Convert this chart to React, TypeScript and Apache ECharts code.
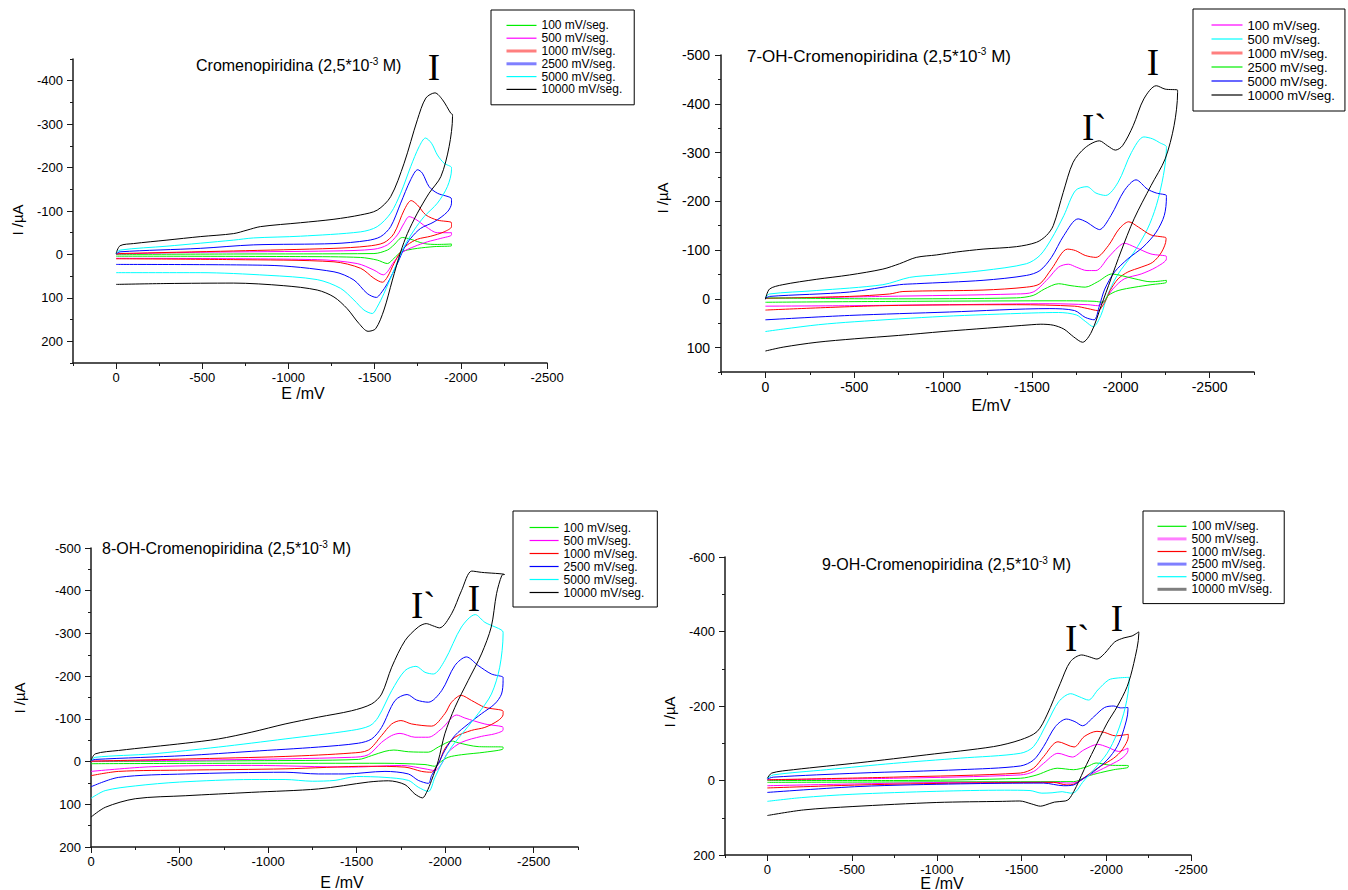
import React, { useEffect, useRef } from 'react';
import * as echarts from 'echarts';

type Pt = [number, number];

const RATES = ['100 mV/seg.', '500 mV/seg.', '1000 mV/seg.', '2500 mV/seg.', '5000 mV/seg.', '10000 mV/seg.'];

// ---------- Panel 1: Cromenopiridina ----------
const p1_100: Pt[] = [[0,0],[-682,-1],[-1496,-2],[-1574,-10],[-1612,-22],[-1661,-39],[-1709,-35],[-1787,-25],[-1864,-23],[-1946,-24],
  [-1946,-20],[-1845,-18],[-1748,-14],[-1690,-10],[-1651,-5],[-1612,9],[-1574,21],[-1515,13],[-1419,7],[-1070,5],[0,4]];
const p1_500: Pt[] = [[0,-1],[-488,-5],[-1264,-8],[-1496,-12],[-1574,-22],[-1632,-45],[-1671,-72],[-1700,-87],[-1738,-81],[-1797,-64],[-1864,-50],[-1946,-50],
  [-1946,-45],[-1884,-37],[-1806,-29],[-1729,-18],[-1661,-5],[-1612,17],[-1574,40],[-1550,47],[-1496,36],[-1399,21],[-1167,12],[0,9]];
const p1_1000: Pt[] = [[0,-1],[-23,-2],[-682,-8],[-1264,-14],[-1457,-19],[-1554,-27],[-1612,-48],[-1671,-102],[-1712,-124],[-1748,-114],[-1797,-91],[-1864,-79],[-1946,-73],
  [-1946,-64],[-1903,-52],[-1826,-42],[-1748,-35],[-1690,-22],[-1651,-6],[-1612,21],[-1574,52],[-1545,64],[-1496,55],[-1419,32],[-1264,17],[-682,12],[0,10]];
const p1_2500: Pt[] = [[0,-1],[-23,-6],[-488,-14],[-798,-22],[-1264,-25],[-1457,-32],[-1535,-41],[-1593,-64],[-1651,-118],[-1709,-172],[-1750,-195],[-1777,-187],[-1816,-156],[-1864,-141],[-1946,-128],
  [-1946,-118],[-1922,-98],[-1845,-75],[-1767,-60],[-1709,-37],[-1671,-14],[-1632,21],[-1574,67],[-1535,90],[-1510,99],[-1457,90],[-1380,59],[-1264,40],[-876,25],[0,23]];
const p1_5000: Pt[] = [[0,-2],[-23,-10],[-295,-19],[-682,-33],[-798,-38],[-1070,-42],[-1419,-52],[-1515,-64],[-1593,-95],[-1651,-141],[-1709,-202],[-1758,-248],[-1795,-268],[-1830,-256],[-1864,-229],[-1903,-210],[-1946,-200],
  [-1946,-195],[-1922,-156],[-1864,-118],[-1787,-87],[-1729,-56],[-1671,-18],[-1612,36],[-1554,90],[-1515,121],[-1486,136],[-1438,128],[-1380,105],[-1302,78],[-1167,58],[-876,48],[-488,42],[0,42]];
const p1_10000: Pt[] = [[0,-2],[-23,-20],[-101,-25],[-295,-33],[-488,-41],[-682,-48],[-760,-56],[-837,-64],[-1070,-73],[-1264,-81],[-1419,-91],[-1515,-102],[-1593,-133],[-1671,-210],[-1748,-310],[-1797,-360],[-1850,-372],[-1894,-356],[-1942,-325],[-1952,-322],
  [-1952,-318],[-1932,-248],[-1884,-179],[-1816,-141],[-1748,-95],[-1690,-48],[-1651,-6],[-1603,59],[-1554,128],[-1506,171],[-1462,177],[-1409,159],[-1341,125],[-1264,98],[-1167,82],[-973,72],[-682,66],[-295,67],[0,69]];

// ---------- Panel 2: 7-OH-Cromenopiridina ----------
const p2_100: Pt[] = [[0,-1],[-661,-5],[-1413,-10],[-1507,-14],[-1590,-41],[-1650,-65],[-1705,-71],[-1750,-65],[-1810,-58],[-1860,-58],[-1930,-85],[-1985,-106],[-2020,-114],[-2080,-106],[-2170,-92],[-2257,-87],
  [-2257,-82],[-2200,-65],[-2115,-51],[-2020,-41],[-1955,-20],[-1910,3],[-1870,14],[-1815,12],[-1601,10],[-1037,12],[-474,14],[0,15]];
const p2_500: Pt[] = [[0,-3],[-23,-10],[-286,-17],[-661,-29],[-812,-44],[-962,-49],[-1225,-58],[-1469,-72],[-1545,-89],[-1610,-123],[-1680,-171],[-1745,-222],[-1810,-230],[-1860,-217],[-1915,-212],[-1985,-239],[-2060,-300],[-2130,-332],[-2180,-328],[-2220,-320],[-2257,-312],
  [-2257,-308],[-2240,-253],[-2200,-191],[-2150,-143],[-2075,-96],[-1980,-48],[-1925,-7],[-1888,34],[-1845,57],[-1800,46],[-1750,33],[-1650,28],[-1500,29],[-1000,36],[-500,47],[-300,53],[-100,62],[0,67]];
const p2_1000: Pt[] = [[0,-1],[-474,-5],[-699,-10],[-774,-15],[-1225,-18],[-1469,-24],[-1545,-31],[-1610,-61],[-1700,-102],[-1745,-99],[-1800,-89],[-1860,-85],[-1930,-109],[-1990,-143],[-2045,-158],[-2100,-147],[-2170,-131],[-2255,-125],
  [-2255,-122],[-2230,-96],[-2180,-75],[-2115,-65],[-2040,-55],[-1985,-41],[-1940,-17],[-1910,7],[-1870,24],[-1815,20],[-1740,15],[-1413,12],[-661,14],[0,23]];
const p2_2500: Pt[] = [[0,-2],[-661,0],[-1413,-2],[-1507,-7],[-1570,-20],[-1650,-31],[-1720,-27],[-1800,-24],[-1870,-35],[-1950,-51],[-2000,-48],[-2080,-41],[-2170,-35],[-2257,-38],
  [-2257,-34],[-2170,-29],[-2080,-24],[-1985,-17],[-1930,-7],[-1900,7],[-1850,5],[-1695,4],[-849,5],[0,7]];
const p2_5000: Pt[] = [[0,-1],[-23,-5],[-474,-14],[-755,-29],[-849,-31],[-1225,-38],[-1469,-48],[-1545,-58],[-1610,-85],[-1680,-130],[-1760,-164],[-1810,-157],[-1850,-147],[-1880,-142],[-1945,-171],[-2020,-222],[-2086,-244],[-2150,-225],[-2200,-217],[-2257,-212],
  [-2257,-208],[-2245,-171],[-2200,-137],[-2125,-106],[-2040,-82],[-1965,-55],[-1910,-20],[-1880,14],[-1850,43],[-1800,38],[-1740,24],[-1601,20],[-1037,27],[-474,34],[0,43]];
const p2_10000: Pt[] = [[0,1],[-23,-20],[-98,-29],[-286,-40],[-474,-49],[-661,-61],[-755,-72],[-849,-85],[-962,-90],[-1075,-96],[-1225,-102],[-1413,-107],[-1526,-116],[-1582,-130],[-1620,-150],[-1676,-218],[-1732,-280],[-1800,-310],[-1880,-324],[-1925,-314],[-1970,-305],[-2010,-314],[-2070,-355],[-2130,-410],[-2200,-437],[-2250,-430],[-2320,-428],
  [-2320,-423],[-2300,-355],[-2250,-287],[-2170,-232],[-2075,-164],[-2000,-96],[-1945,-41],[-1890,14],[-1835,68],[-1785,89],[-1735,78],[-1680,62],[-1620,54],[-1550,52],[-1500,53],[-1250,60],[-1000,67],[-750,75],[-500,82],[-290,89],[-100,99],[0,107]];

// ---------- Panel 3: 8-OH-Cromenopiridina ----------
const p3_100: Pt[] = [[0,0],[-908,-2],[-1510,-5],[-1585,-14],[-1660,-24],[-1710,-27],[-1792,-23],[-1905,-22],[-1961,-34],[-2040,-48],[-2073,-44],[-2186,-35],[-2327,-34],
  [-2327,-30],[-2224,-22],[-2092,-16],[-2017,-10],[-1970,2],[-1942,11],[-1886,7],[-1660,4],[-908,4],[0,5]];
const p3_500: Pt[] = [[0,-1],[-720,-4],[-1472,-10],[-1566,-16],[-1641,-45],[-1698,-61],[-1745,-66],[-1829,-57],[-1905,-57],[-1980,-77],[-2065,-109],[-2111,-102],[-2224,-88],[-2327,-80],
  [-2327,-74],[-2280,-65],[-2205,-59],[-2092,-45],[-2017,-22],[-1980,5],[-1942,21],[-1886,17],[-1754,9],[-1472,13],[-908,9],[-344,12],[0,23]];
const p3_1000: Pt[] = [[0,-1],[-532,-6],[-1096,-12],[-1472,-20],[-1566,-27],[-1641,-61],[-1698,-88],[-1750,-96],[-1811,-88],[-1923,-83],[-1998,-112],[-2036,-139],[-2090,-155],[-2149,-143],[-2224,-127],[-2327,-118],
  [-2327,-110],[-2299,-96],[-2224,-80],[-2149,-73],[-2055,-57],[-1998,-30],[-1970,-2],[-1942,17],[-1923,25],[-1867,23],[-1773,13],[-1566,11],[-1096,17],[-532,20],[-156,23],[0,33]];
const p3_2500: Pt[] = [[0,-2],[-24,-5],[-532,-14],[-908,-24],[-1284,-34],[-1510,-43],[-1585,-53],[-1641,-80],[-1717,-143],[-1785,-157],[-1839,-144],[-1905,-139],[-1980,-166],[-2055,-225],[-2120,-245],[-2186,-225],[-2261,-205],[-2327,-197],
  [-2327,-190],[-2318,-158],[-2280,-135],[-2205,-112],[-2130,-88],[-2055,-61],[-1998,-26],[-1961,5],[-1923,33],[-1905,51],[-1848,44],[-1792,29],[-1660,23],[-1434,29],[-1284,29],[-1096,25],[-532,29],[-156,37],[0,59]];
const p3_5000: Pt[] = [[0,-2],[-24,-10],[-344,-18],[-720,-34],[-1096,-53],[-1472,-73],[-1575,-84],[-1622,-104],[-1698,-166],[-1773,-213],[-1835,-223],[-1886,-209],[-1933,-205],[-1998,-237],[-2092,-315],[-2170,-344],[-2224,-326],[-2327,-303],
  [-2327,-299],[-2308,-221],[-2261,-158],[-2186,-112],[-2111,-73],[-2036,-34],[-1980,5],[-1942,37],[-1905,70],[-1848,60],[-1792,44],[-1660,37],[-1500,35],[-1378,44],[-1250,46],[-1096,42],[-908,42],[-500,48],[-250,57],[-80,68],[0,86]];
const p3_10000: Pt[] = [[0,-2],[-24,-18],[-156,-26],[-532,-43],[-720,-53],[-908,-69],[-1096,-88],[-1284,-104],[-1472,-119],[-1585,-135],[-1641,-158],[-1698,-221],[-1773,-283],[-1848,-315],[-1893,-323],[-1930,-318],[-1968,-313],[-2036,-346],[-2092,-400],[-2150,-446],[-2205,-443],[-2335,-438],
  [-2320,-436],[-2290,-393],[-2260,-315],[-2205,-252],[-2130,-190],[-2055,-127],[-1998,-65],[-1961,-2],[-1923,44],[-1895,72],[-1872,85],[-1829,76],[-1773,54],[-1679,45],[-1566,48],[-1284,64],[-908,72],[-532,80],[-250,87],[-81,107],[0,130]];

// ---------- Panel 4: 9-OH-Cromenopiridina ----------
const p4_100: Pt[] = [[0,0],[-744,0],[-1493,-6],[-1591,-15],[-1670,-29],[-1710,-33],[-1807,-29],[-1886,-37],[-1940,-47],[-2024,-41],[-2130,-40],
  [-2130,-36],[-2044,-29],[-1965,-21],[-1886,-11],[-1837,0],[-1807,3],[-1729,3],[-744,4],[0,5]];
const p4_500: Pt[] = [[0,-2],[-744,-6],[-1493,-15],[-1571,-24],[-1630,-46],[-1715,-73],[-1800,-63],[-1867,-82],[-1950,-97],[-2005,-90],[-2074,-78],[-2128,-87],
  [-2128,-80],[-2093,-60],[-2024,-42],[-1945,-24],[-1886,-11],[-1837,3],[-1788,7],[-1689,5],[-1138,5],[-547,9],[0,14]];
const p4_1000: Pt[] = [[0,-2],[-744,-9],[-1493,-20],[-1571,-33],[-1630,-64],[-1715,-104],[-1810,-90],[-1870,-118],[-1945,-132],[-1990,-129],[-2054,-120],[-2130,-124],
  [-2130,-118],[-2093,-82],[-2044,-60],[-1965,-38],[-1906,-20],[-1847,0],[-1807,10],[-1768,12],[-1689,5],[-1138,7],[-547,12],[0,20]];
const p4_2500: Pt[] = [[0,-4],[-35,-9],[-547,-20],[-1138,-29],[-1493,-39],[-1571,-55],[-1630,-91],[-1700,-145],[-1765,-165],[-1815,-158],[-1860,-147],[-1926,-171],[-1990,-196],[-2044,-200],[-2084,-195],[-2128,-196],
  [-2128,-189],[-2103,-136],[-2064,-91],[-2005,-55],[-1926,-24],[-1847,0],[-1807,12],[-1748,14],[-1630,7],[-1138,9],[-547,16],[0,32]];
const p4_5000: Pt[] = [[0,-6],[-35,-15],[-350,-29],[-744,-46],[-1138,-60],[-1493,-73],[-1571,-91],[-1650,-154],[-1720,-212],[-1790,-233],[-1840,-225],[-1895,-216],[-1950,-243],[-2014,-270],[-2064,-275],[-2135,-277],
  [-2135,-270],[-2113,-198],[-2064,-127],[-2005,-73],[-1926,-29],[-1860,5],[-1820,30],[-1790,34],[-1740,30],[-1680,33],[-1620,34],[-1550,27],[-1400,26],[-1000,29],[-500,37],[-200,46],[0,56]];
const p4_10000: Pt[] = [[0,-6],[-26,-20],[-154,-29],[-547,-48],[-941,-69],[-1335,-91],[-1493,-109],[-1591,-131],[-1650,-176],[-1729,-261],[-1788,-319],[-1855,-337],[-1900,-332],[-1945,-326],[-1990,-341],[-2050,-372],[-2105,-383],[-2152,-388],[-2192,-399],
  [-2192,-395],[-2162,-314],[-2123,-252],[-2064,-198],[-2005,-154],[-1926,-82],[-1870,-30],[-1837,3],[-1809,29],[-1780,50],[-1758,55],[-1694,58],[-1640,66],[-1612,69],[-1560,63],[-1490,55],[-1388,56],[-1000,59],[-500,70],[-214,79],[0,94]];

// major tick values (labelled) per panel
const X_MAJOR_P1 = [0, -500, -1000, -1500, -2000, -2500];
const X_MAJOR_P2 = [0, -500, -1000, -1500, -2000, -2500];
const X_MAJOR_P3 = [0, -500, -1000, -1500, -2000, -2500];
const X_MAJOR_P4 = [0, -500, -1000, -1500, -2000, -2500];
const Y_MAJOR_P1 = [-400, -300, -200, -100, 0, 100, 200];
const Y_MAJOR_P2 = [-500, -400, -300, -200, -100, 0, 100];
const Y_MAJOR_P3 = [-500, -400, -300, -200, -100, 0, 100, 200];
const Y_MAJOR_P4 = [-600, -400, -200, 0, 200];

// colours by legend order (100, 500, 1000, 2500, 5000, 10000)
const COLORS_STD = ['#00ee00', '#ff00ff', '#ff0000', '#0000ff', '#00ffff', '#000000'];
const COLORS_P2 = ['#ff00ff', '#00ffff', '#ff0000', '#00ee00', '#0000ff', '#000000'];

const FONT = "'Liberation Sans', Arial, sans-serif";
const SERIF = "'Liberation Serif', 'Times New Roman', serif";

interface PanelCfg {
  grid: { left: number; top: number; width: number; height: number };
  xMin: number; xMax: number; xMajor: number[];
  yMin: number; yMax: number; yStep: number; yMajor: number[];
  tickFs: number; labelMargin: number;
  colors: string[];
  curves: Pt[][];
  legend: { left: number; top: number; padding: number[]; itemWidth: number; row: number; fs: number; thick: number[] };
}

const panels: PanelCfg[] = [
  {
    grid: { left: 73, top: 59, width: 474, height: 304 },
    xMin: -2500, xMax: 250, xMajor: X_MAJOR_P1, yMin: -450, yMax: 250, yStep: 50, yMajor: Y_MAJOR_P1,
    tickFs: 13, labelMargin: 10,
    colors: COLORS_STD,
    curves: [p1_100, p1_500, p1_1000, p1_2500, p1_5000, p1_10000],
    legend: { left: 491, top: 10, padding: [9, 12, 9, 14], itemWidth: 30, row: 12.8, fs: 12, thick: [2, 3] },
  },
  {
    grid: { left: 721, top: 55, width: 533, height: 317 },
    xMin: -2750, xMax: 250, xMajor: X_MAJOR_P2, yMin: -500, yMax: 150, yStep: 50, yMajor: Y_MAJOR_P2,
    tickFs: 14, labelMargin: 11,
    colors: COLORS_P2,
    curves: [p2_100, p2_500, p2_1000, p2_2500, p2_5000, p2_10000],
    legend: { left: 1193, top: 9, padding: [9, 10, 9, 17], itemWidth: 31, row: 14, fs: 13, thick: [2] },
  },
  {
    grid: { left: 91, top: 548, width: 487, height: 299 },
    xMin: -2750, xMax: 0, xMajor: X_MAJOR_P3, yMin: -500, yMax: 200, yStep: 50, yMajor: Y_MAJOR_P3,
    tickFs: 13, labelMargin: 10,
    colors: COLORS_STD,
    curves: [p3_100, p3_500, p3_1000, p3_2500, p3_5000, p3_10000],
    legend: { left: 513, top: 511, padding: [10, 13, 8, 16], itemWidth: 29, row: 13, fs: 12, thick: [] },
  },
  {
    grid: { left: 725, top: 557, width: 466, height: 298 },
    xMin: -2500, xMax: 250, xMajor: X_MAJOR_P4, yMin: -600, yMax: 200, yStep: 100, yMajor: Y_MAJOR_P4,
    tickFs: 13, labelMargin: 10,
    colors: COLORS_STD,
    curves: [p4_100, p4_500, p4_1000, p4_2500, p4_5000, p4_10000],
    legend: { left: 1143, top: 511, padding: [9, 12, 8, 13], itemWidth: 29, row: 12.6, fs: 12, thick: [1, 3, 5] },
  },
];

const TITLES = [
  { pre: 'Cromenopiridina (2,5*10', x: 196, y: 65, fs: 16 },
  { pre: '7-OH-Cromenopiridina (2,5*10', x: 747, y: 56, fs: 17 },
  { pre: '8-OH-Cromenopiridina (2,5*10', x: 102, y: 548, fs: 16 },
  { pre: '9-OH-Cromenopiridina (2,5*10', x: 822, y: 564, fs: 16 },
];

const PEAK_LABELS = [
  { text: 'I', x: 434, y: 67 },
  { text: 'I', x: 1153, y: 62 },
  { text: 'I`', x: 1082, y: 127, left: true },
  { text: 'I`', x: 411, y: 605, left: true },
  { text: 'I', x: 474, y: 598 },
  { text: 'I`', x: 1065, y: 638, left: true },
  { text: 'I', x: 1117, y: 618 },
];

const Y_NAMES = [
  { x: 17, y: 220 }, { x: 662, y: 198 }, { x: 19, y: 698 }, { x: 669, y: 712 },
];
const X_NAMES = [
  { text: 'E /mV', x: 303, y: 393 }, { text: 'E/mV', x: 991, y: 405 },
  { text: 'E /mV', x: 342, y: 882 }, { text: 'E /mV', x: 942, y: 883 },
];

const AXIS_COLOR = '#1a1a1a';

function buildOption() {
  const grid: any[] = [];
  const xAxis: any[] = [];
  const yAxis: any[] = [];
  const series: any[] = [];
  const legend: any[] = [];

  panels.forEach((p, pi) => {
    grid.push({ ...p.grid, containLabel: false });
    // main axes: line, minor ticks, labels
    xAxis.push({
      type: 'value', gridIndex: pi, position: 'bottom', min: p.xMin, max: p.xMax, interval: 250, inverse: true,
      axisLine: { show: true, onZero: false, lineStyle: { color: AXIS_COLOR, width: 1.5 } },
      axisTick: { show: true, length: 3, lineStyle: { color: AXIS_COLOR, width: 1 } },
      axisLabel: {
        color: '#000', fontSize: p.tickFs, fontFamily: FONT, margin: 8,
        formatter: (v: number) => (p.xMajor.indexOf(Math.round(v)) >= 0 ? String(Math.round(v)) : ''),
      },
      splitLine: { show: false },
    });
    yAxis.push({
      type: 'value', gridIndex: pi, position: 'left', min: p.yMin, max: p.yMax, interval: p.yStep, inverse: true,
      axisLine: { show: true, onZero: false, lineStyle: { color: AXIS_COLOR, width: 1.5 } },
      axisTick: { show: true, length: 3, lineStyle: { color: AXIS_COLOR, width: 1 } },
      axisLabel: {
        color: '#000', fontSize: p.tickFs, fontFamily: FONT, margin: p.labelMargin,
        formatter: (v: number) => (p.yMajor.indexOf(Math.round(v)) >= 0 ? String(Math.round(v)) : ''),
      },
      splitLine: { show: false },
    });
  });
  // overlay axes: longer major ticks only
  panels.forEach((p, pi) => {
    xAxis.push({
      type: 'value', gridIndex: pi, position: 'bottom', min: p.xMin, max: p.xMax, interval: 250, inverse: true,
      axisLine: { show: false, onZero: false },
      axisTick: { show: true, length: 6, customValues: p.xMajor, lineStyle: { color: AXIS_COLOR, width: 1 } },
      axisLabel: { show: false },
      splitLine: { show: false },
    });
    yAxis.push({
      type: 'value', gridIndex: pi, position: 'left', min: p.yMin, max: p.yMax, interval: p.yStep, inverse: true,
      axisLine: { show: false, onZero: false },
      axisTick: { show: true, length: 6, customValues: p.yMajor, lineStyle: { color: AXIS_COLOR, width: 1 } },
      axisLabel: { show: false },
      splitLine: { show: false },
    });
  });

  panels.forEach((p, pi) => {
    const names: string[] = [];
    p.curves.forEach((data, ci) => {
      const name = RATES[ci] + '#' + pi;
      names.push(name);
      series.push({
        type: 'line', name, xAxisIndex: pi, yAxisIndex: pi, data,
        symbol: 'none', showSymbol: false, smooth: 0.3, silent: true,
        color: p.colors[ci],
        lineStyle: { color: p.colors[ci], width: 1 },
      });
    });
    const lg = p.legend;
    legend.push({
      orient: 'vertical', left: lg.left, top: lg.top, padding: lg.padding,
      itemWidth: lg.itemWidth, itemHeight: 2, itemGap: 0,
      borderColor: '#000', borderWidth: 1, selectedMode: false,
      itemStyle: { opacity: 0 },
      textStyle: { color: '#000', fontSize: lg.fs, fontFamily: FONT, lineHeight: lg.row },
      formatter: (n: string) => n.split('#')[0],
      data: names.map((n, i) =>
        lg.thick.indexOf(i) >= 0
          ? { name: n, itemStyle: { opacity: 0 }, lineStyle: { width: 3, opacity: 0.5 } }
          : { name: n, itemStyle: { opacity: 0 }, lineStyle: { width: 1.2 } }
      ),
    });
  });

  const graphic: any[] = [];
  TITLES.forEach((t) => {
    graphic.push({
      type: 'text', x: t.x, y: t.y, silent: true,
      style: {
        text: '{a|' + t.pre + '}{b|-3}{a| M)}',
        align: 'left', verticalAlign: 'middle', fill: '#000',
        rich: {
          a: { fontSize: t.fs, fontFamily: FONT, fill: '#000', lineHeight: t.fs + 2 },
          b: { fontSize: Math.round(t.fs * 0.6), fontFamily: FONT, fill: '#000', verticalAlign: 'top', lineHeight: t.fs + 2 },
        },
      },
    });
  });
  PEAK_LABELS.forEach((l) => {
    graphic.push({
      type: 'text', x: l.x, y: l.y, silent: true,
      style: {
        text: l.text, fontSize: 37, fontFamily: SERIF, fill: '#000',
        align: (l as any).left ? 'left' : 'center', verticalAlign: 'middle',
      },
    });
  });
  Y_NAMES.forEach((n) => {
    graphic.push({
      type: 'text', x: n.x, y: n.y, rotation: Math.PI / 2, silent: true,
      style: { text: 'I /µA', fontSize: 15, fontFamily: FONT, fill: '#000', align: 'center', verticalAlign: 'middle' },
    });
  });
  X_NAMES.forEach((n) => {
    graphic.push({
      type: 'text', x: n.x, y: n.y, silent: true,
      style: { text: n.text, fontSize: 16, fontFamily: FONT, fill: '#000', align: 'center', verticalAlign: 'middle' },
    });
  });

  return {
    animation: false,
    backgroundColor: '#ffffff',
    textStyle: { fontFamily: FONT },
    grid, xAxis, yAxis, series, legend, graphic,
  };
}

export default function App() {
  const ref = useRef<HTMLDivElement | null>(null);
  useEffect(() => {
    if (!ref.current) return;
    const chart = echarts.init(ref.current, undefined, { renderer: 'svg' });
    chart.setOption(buildOption() as any);
    return () => chart.dispose();
  }, []);
  return (
    <div
      ref={ref}
      style={{ position: 'fixed', left: 0, top: 0, width: 1348, height: 890, background: '#fff' }}
    />
  );
}
